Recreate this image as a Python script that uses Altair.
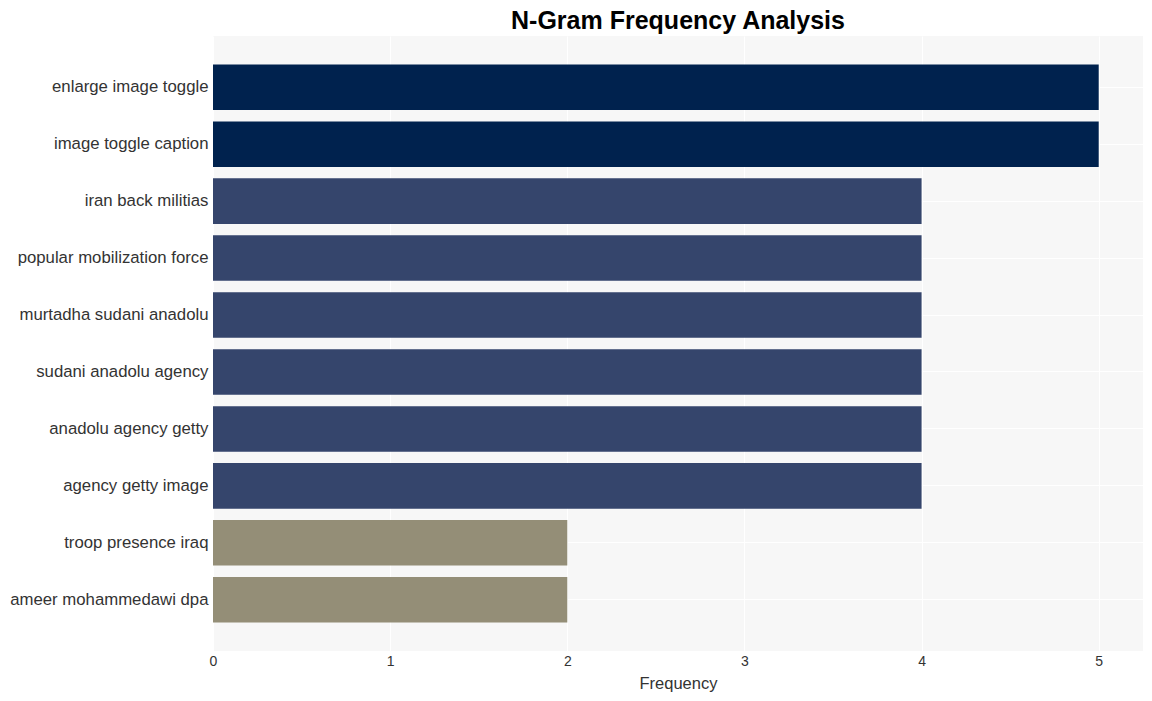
import altair as alt
import pandas as pd

ngrams = [
    "enlarge image toggle",
    "image toggle caption",
    "iran back militias",
    "popular mobilization force",
    "murtadha sudani anadolu",
    "sudani anadolu agency",
    "anadolu agency getty",
    "agency getty image",
    "troop presence iraq",
    "ameer mohammedawi dpa",
]
frequency = [5, 5, 4, 4, 4, 4, 4, 4, 2, 2]
color_domain = [5, 4, 2]
color_range = ["#00224e", "#35456c", "#948e77"]

df = pd.DataFrame({"ngram": ngrams, "freq": frequency})

font = "Liberation Sans"

chart = (
    alt.Chart(df)
    .mark_bar()
    .encode(
        y=alt.Y(
            "ngram:N",
            sort=ngrams,
            title=None,
            scale=alt.Scale(paddingInner=0.2, paddingOuter=0.5),
            axis=alt.Axis(
                labelFontSize=16.75,
                labelColor="#333333",
                labelFont=font,
                labelPadding=5,
                ticks=False,
                domain=False,
                grid=True,
                gridColor="white",
                gridWidth=1,
                tickBand="center",
                labelLimit=400,
            ),
        ),
        x=alt.X(
            "freq:Q",
            title="Frequency",
            scale=alt.Scale(domain=[0, 5.25], nice=False),
            axis=alt.Axis(
                values=[0, 1, 2, 3, 4, 5],
                format="d",
                labelFontSize=14,
                labelColor="#333333",
                labelFont=font,
                labelFlush=False,
                titleFont=font,
                titleFontSize=16.5,
                titleFontWeight="normal",
                titleColor="#333333",
                ticks=False,
                domain=False,
                grid=True,
                gridColor="white",
                gridWidth=1,
                labelPadding=3,
                titlePadding=7,
            ),
        ),
        color=alt.Color(
            "freq:O",
            scale=alt.Scale(domain=color_domain, range=color_range),
            legend=None,
        ),
    )
    .properties(
        width=930,
        height=615,
        padding={"left": 9, "top": 9, "right": 5, "bottom": 5},
        title=alt.TitleParams(
            "N-Gram Frequency Analysis",
            font=font,
            fontSize=25,
            fontWeight="bold",
            color="black",
            anchor="middle",
            offset=2,
        ),
    )
    .configure(background="white")
    .configure_view(fill="#f7f7f7", strokeWidth=0)
)

chart.save("out.html", embed_options={"renderer": "svg", "actions": False})
